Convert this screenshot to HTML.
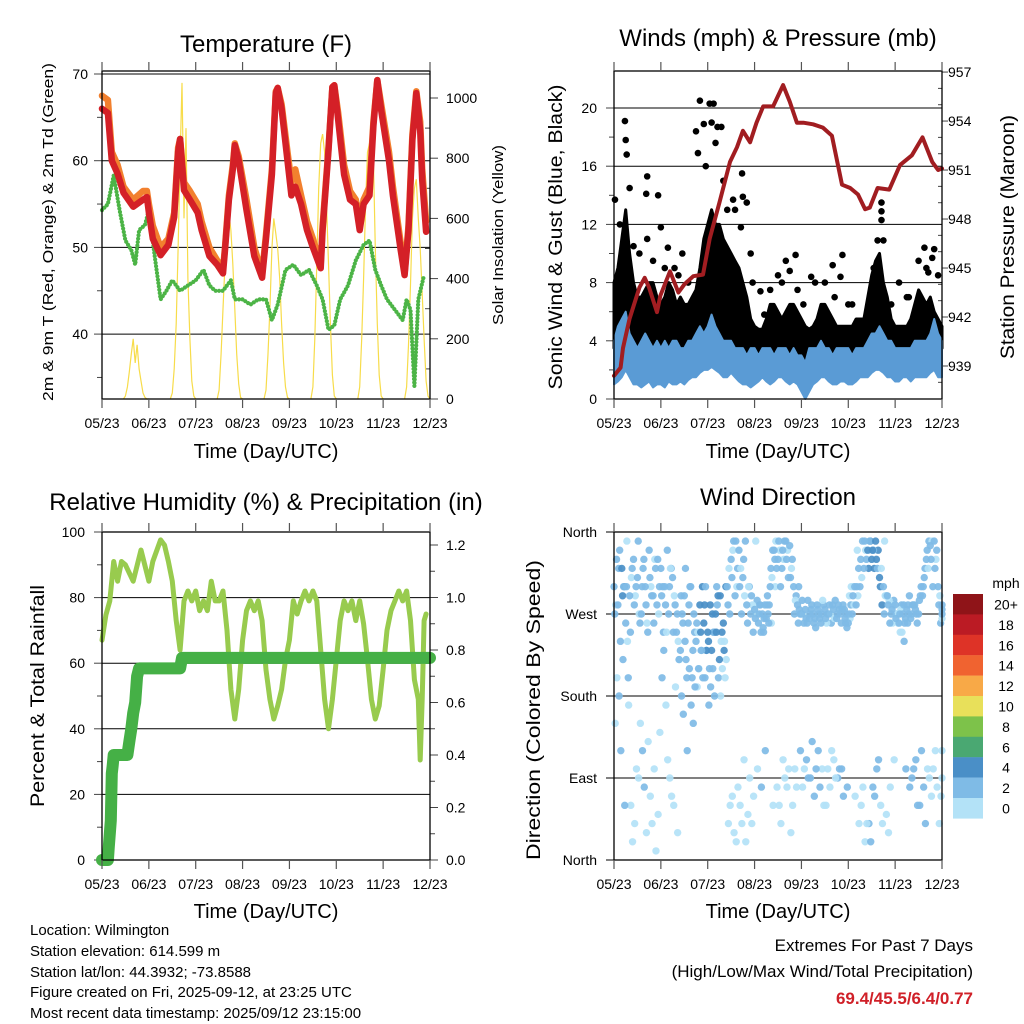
<!DOCTYPE html>
<html><head><meta charset="utf-8"><style>
html,body{margin:0;padding:0;background:#fff}
svg{display:block;font-family:"Liberation Sans",Arial,sans-serif}
</style></head><body>
<svg id="s" width="1024" height="1024" viewBox="0 0 1024 1024" xmlns="http://www.w3.org/2000/svg">
<rect width="1024" height="1024" fill="#fff"/>
<g id="p1"></g>
<g id="p2"></g>
<g id="p3"></g>
<g id="p4"></g>
<text x="266" y="52" font-size="24" text-anchor="middle">Temperature (F)</text>
<text x="778" y="46" font-size="24" text-anchor="middle">Winds (mph) &amp; Pressure (mb)</text>
<text x="266" y="510" font-size="24" text-anchor="middle">Relative Humidity (%) &amp; Precipitation (in)</text>
<text x="778" y="505" font-size="24" text-anchor="middle">Wind Direction</text>
<text x="266" y="458" font-size="20" text-anchor="middle">Time (Day/UTC)</text>
<text x="778" y="458" font-size="20" text-anchor="middle">Time (Day/UTC)</text>
<text x="266" y="918" font-size="20" text-anchor="middle">Time (Day/UTC)</text>
<text x="778" y="918" font-size="20" text-anchor="middle">Time (Day/UTC)</text>
<text transform="translate(53,232) rotate(-90)" font-size="15" text-anchor="middle" textLength="338" lengthAdjust="spacingAndGlyphs">2m &amp; 9m T (Red, Orange) &amp; 2m Td (Green)</text>
<text transform="translate(503,235) rotate(-90)" font-size="15" text-anchor="middle" textLength="180" lengthAdjust="spacingAndGlyphs">Solar Insolation (Yellow)</text>
<text transform="translate(562,237) rotate(-90)" font-size="19" text-anchor="middle" textLength="305" lengthAdjust="spacingAndGlyphs">Sonic Wind &amp; Gust (Blue, Black)</text>
<text transform="translate(1014,237) rotate(-90)" font-size="19" text-anchor="middle" textLength="244" lengthAdjust="spacingAndGlyphs">Station Pressure (Maroon)</text>
<text transform="translate(44,696) rotate(-90)" font-size="19" text-anchor="middle" textLength="222" lengthAdjust="spacingAndGlyphs">Percent &amp; Total Rainfall</text>
<text transform="translate(540,710) rotate(-90)" font-size="19" text-anchor="middle" textLength="300" lengthAdjust="spacingAndGlyphs">Direction (Colored By Speed)</text>
<g font-size="15">
<text x="30" y="935">Location: Wilmington</text>
<text x="30" y="956">Station elevation: 614.599 m</text>
<text x="30" y="977">Station lat/lon: 44.3932; -73.8588</text>
<text x="30" y="997">Figure created on Fri, 2025-09-12, at 23:25 UTC</text>
<text x="30" y="1018">Most recent data timestamp: 2025/09/12 23:15:00</text>
</g>
<g font-size="17" text-anchor="end">
<text x="973" y="951">Extremes For Past 7 Days</text>
<text x="973" y="977">(High/Low/Max Wind/Total Precipitation)</text>
<text x="973" y="1004" font-weight="bold" fill="#d02028">69.4/45.5/6.4/0.77</text>
</g>
</svg>
<script>
// ---------- data ----------
const dayLabels = ["05/23","06/23","07/23","08/23","09/23","10/23","11/23","12/23"];
const tempHours = [0,3,5,8,11,16,21,23,24,26,30,34,37,39,40,42,45,49,51,55,59,62,63,65,67,68,70,74,78,82,84,87,89,90,92,95,97,99,102,105,108,110,112,113,116,118,119,121,124,127,130,132,134,137,139,141,143,147,149,153,155,157,159,161,163,164,166];
const tempRed =   [66,65.5,60,58.5,56.3,54.7,55.5,55.8,54,51,49.1,50.3,53.5,61,62.5,56.6,55.5,54,52,49,48,47,49.7,55.5,59,61.8,60,54.3,49,46.5,51,58.4,67.8,68.4,66,60,56,57,55,52,50,48.8,47.6,52,61.2,68.5,68.7,64.7,58.4,55.5,55,52,55,56,64,69.3,65.8,60,56,49.7,46.8,52,62.4,67.8,63.5,57.8,51.8];
const tempOrange =[67.5,67,61,59.5,57,55.5,56.5,56.5,55,52.5,50,51,54,61.5,62.5,57.5,56.5,55,53,50,48.5,47.5,50,56,59.5,62,60.5,55.5,50,47,51.5,59,68,68.4,66.5,61,57.5,59,56,53,51,49.5,48,52.5,61.5,68.5,68.7,65.5,59.5,56.5,55.5,53,55.5,57,64.5,69.3,66.5,61,57,50.5,47,52.5,63,68,64.5,59,53];
const dewHours = [0,3,6,9,12,15,17,19,22,24,27,30,33,36,40,44,48,52,55,58,62,66,68,72,76,80,84,87,90,94,98,102,106,110,113,116,119,122,126,130,134,137,140,143,146,150,154,156,158,160,162,165];
const dewPoint = [54.3,55,58.3,54.3,50.8,49.7,48,52,52.6,54.3,49,44,45,46.2,45,45.6,46.2,47.4,45.6,45,45,46.2,44,44,43.4,44,44,41.6,43.4,47.4,48,46.8,47.4,45.6,44,40.5,41,44,45.6,48.5,50.3,50.8,47.4,45.6,44,42.8,41.6,44,42.8,34,44,46.8];
const solarDay0 = [0,10,40,90,150,200,120,180,100,60,20,5,0,0];
const solarDay1 = [0,20,100,250,500,800,1050,600,900,400,200,60,10,0];
const solarDay2 = [0,30,150,300,450,580,620,560,450,300,150,50,5,0];
const solarDay3 = [0,30,150,300,500,600,550,500,400,250,120,40,5,0];
const solarDay4 = [0,40,200,450,700,850,880,820,650,450,250,80,10,0];
const solarDay5 = [0,40,200,400,650,820,850,700,800,500,250,80,10,0];
const solarDay6 = [0,40,180,380,600,700,730,600,500,350,200,60,10,0];
// winds (every 2 hours, 0..168)
const windHi = [4,5,5.5,6,4.5,4,3.5,4,4.5,4,3.5,4,3.5,4,3.5,4,4,3.5,3.5,4,4,4.5,5,4.5,5,5.8,5,4.5,4,4,4,3.5,3.5,3.5,3,3.5,3.5,3,3.5,3.5,3.5,3,3.5,3.5,3.5,3,3.5,3,3,2.5,3.5,3.5,3.5,4,3.5,3.5,3,3.5,3.5,3.5,3.5,3,3.5,3.5,3.5,4,4.5,4.5,5,4.5,4,4,3.5,3.5,3.5,3.5,3.5,4,4,4,4,4.5,5.5,4.5,4];
const windLo = [1,1.2,1.5,2,1.5,1,1,0.8,1,1.2,0.8,1,1,0.8,1.2,1,1,1.2,1,1.3,1.5,1.5,1.8,2,2,2.2,2,1.8,1.5,1.5,1.8,1.5,1.2,1,1,0.8,1,1.2,1.5,1.2,1,1.2,1.5,1.5,1.2,1,1.2,1,0.5,0,0.5,1,1.2,1.5,1.5,1.2,1,1,1.2,1.2,1,1,1.2,1.5,1.5,1.5,1.8,2,2,1.8,1.5,1.5,1.2,1.2,1.5,1.5,1.2,1.5,1.5,1.5,1.5,1.8,2,1.5,1.5];
const gustHi = [8,9,11,13,10,8,7,7,7.5,8,8,7,6.5,7,8,7.5,6.5,7,6.5,6.5,7,7.5,9,11,12,13,12,12,11,10.5,10,9.5,9,8,7,5.5,5,4.8,4.8,5.5,6.5,6.5,6,5.5,6,6.5,6.5,6,5.5,5,4.8,5,5.5,6.5,6.5,6,5.5,5,5,5,5,5,5.5,5.5,5.5,7,8.5,9.5,10,8,7,5.5,5,5,5,5,5.5,6.5,7.5,7,6.5,7,6,5.5,5];
const gustOutHours = [5.6,6,6.5,0.5,17,16.5,22.6,24,27.6,17,44,49,51,46,50,53,55,52,42,43,65.6,61,66,68,65,75,77,137,137,137,135,138,93,90,101,117,112,116,159,164,163,161,106.5,125,129.6,3,10,31,35,58,71,84,88,97,108,120,146,151,156,8,13,20,26,33,38,47,56,62,70,80,86,94,103,113,122,133,142,150,160,166];
const gustOutVals =  [19.1,17.8,16.8,13.7,15.3,14.1,14,11.8,10.4,11,20.5,20.3,20.3,18.9,19,18.7,18.7,17.6,18.4,16.9,15.5,13.7,13.9,13.5,11.8,7.4,5.8,13.5,12.9,12.3,10.9,10.9,9.9,8.8,8.4,9.9,9.2,8.4,10.4,10.3,9.7,8.7,5.2,4.1,5.3,12,10.5,9,10,13,8,8.5,9.5,6.5,8,6.5,8,7,9.5,14.5,10,9.5,9,8.5,8,16,15,13,10,7.5,8,7.5,8,7,6.5,9,6.5,7,9,8.5];
const pressHours = [0,3.4,4.6,8,13,15.7,18,22,23.7,28.7,33,36,40.6,45.6,49,54,59.4,63,66,69.7,73,76.4,81.5,86.6,90,93.7,97,102,107,111.6,116.8,121,125,128.6,131,135,141,146.5,152.6,158,163,166,168];
const pressVals =  [938.4,938.9,940.1,941.9,943.8,944.4,943.8,942.3,943.3,944.8,943.5,944,944.5,944.6,946.8,949,951.5,952.4,953.4,952.7,953.9,954.9,954.9,956.2,955.2,953.9,953.9,953.8,953.6,953.1,950.1,949.9,949.5,948.6,948.7,949.9,949.8,951.3,951.9,953,951.5,951,951.1];
// humidity & precipitation
const rhHours = [0,2,4,6,8,10,12,16,20,24,26,30,32,34,36,38,40,42,44,46,48,50,52,54,56,58,60,62,64,66,68,70,72,74,76,78,80,82,84,86,88,90,92,94,96,98,100,102,104,106,108,110,112,114,116,118,120,122,124,126,128,130,132,134,136,138,140,142,144,146,148,150,152,154,156,158,160,162,163,164,165,166];
const rhVals = [67,74.7,79,91,85,91,90,85,94.5,85,91,97.6,96,91,85,73,64,79,82,79,82,76,79,76,85,79,79,82,70,52,43,52,67,76,79,76,79,73,58,49,43,47,52,61,67,79,75,79,82,79,82,79,64,49,40,49,61,73,79,76,79,73,79,72,61,49,43,47,58,70,76,79,82,79,82,73,55,49,30.5,49,73,75];
const precipHours = [0,3,3.5,4,4.5,5,5.5,6,13,14,15,16,17,18,19,40,41,168];
const precipVals = [0,0,0.05,0.1,0.15,0.33,0.36,0.4,0.4,0.45,0.5,0.56,0.6,0.7,0.73,0.73,0.77,0.77];
// wind direction (every 2 hours)
const dirA = [300,280,320,260,290,330,310,270,300,340,290,280,320,300,270,310,250,230,290,260,200,240,280,260,250,230,270,220,260,300,330,290,340,310,280,270,275,260,270,265,300,340,330,320,350,345,300,280,270,275,265,270,280,260,275,270,280,265,270,275,260,270,280,300,320,340,330,350,310,300,290,270,280,260,270,275,265,280,270,290,330,345,350,300,280];
const dirB = [150,180,220,350,60,40,90,120,30,70,100,50,200,170,90,60,30,180,320,210,150,190,230,200,170,210,300,180,240,40,70,20,60,110,50,40,350,280,250,290,260,300,60,110,80,30,100,300,80,110,90,70,120,100,60,80,110,90,100,260,290,300,340,60,20,40,80,100,60,350,30,260,270,250,240,280,90,110,60,80,100,70,120,40,90];
const dirC = [270,320,290,300,250,280,350,300,280,310,260,330,290,280,300,250,270,290,240,280,230,260,250,280,240,270,250,290,230,280,310,350,300,330,260,290,265,270,255,280,320,330,350,340,330,310,270,260,285,265,270,260,275,270,265,280,275,270,260,265,270,290,300,330,350,320,340,330,300,270,280,275,265,270,280,260,270,275,285,300,340,330,320,280,270];
const dirD = [330,240,300,200,320,300,260,330,250,290,320,300,250,340,320,280,220,260,200,300,250,210,300,230,280,250,290,250,300,270,350,320,270,350,300,250,285,250,280,260,340,320,300,350,310,330,290,270,260,285,280,255,265,280,270,260,285,275,280,255,280,300,320,350,330,350,320,340,280,290,260,285,270,280,265,290,280,260,300,320,350,300,340,260,275];
const dirE = [280,340,300,240,310,290,270,320,260,300,330,270,300,250,320,290,240,270,220,300,270,250,230,300,210,250,280,240,200,320,340,300,320,290,300,280,270,280,265,270,310,350,340,330,340,320,285,275,270,260,275,265,270,285,260,270,265,280,275,270,265,280,290,310,340,350,340,320,320,290,285,280,270,275,260,270,280,270,290,310,320,350,330,290,265];
const dirF = [200,120,60,170,20,100,150,80,130,40,10,140,230,110,70,190,220,160,120,170,190,210,200,230,190,180,200,210,220,60,30,80,40,20,90,70,100,80,120,280,60,80,40,90,100,60,80,120,100,90,130,100,80,60,100,120,90,100,70,80,300,70,40,80,40,20,70,110,40,50,80,110,260,250,100,80,100,60,120,40,90,100,80,70,120];
const spdA = [3,3,4,3,3,3,2,3,3,2,2,3,3,2,2,3,3,3,3,3,3,3,4,4,5,5,4,4,4,3,3,3,2,2,2,2,3,3,3,2,2,3,2,2,2,2,3,3,3,2,2,3,3,3,2,2,2,3,3,3,2,2,3,3,3,4,4,5,4,3,3,3,3,2,2,3,3,3,2,2,2,3,3,3,2];
const spdB = [1,2,2,1,1,1,1,2,1,1,1,1,2,1,1,1,1,2,2,2,2,1,3,3,3,2,2,1,1,1,1,1,1,1,1,1,1,2,2,2,1,1,1,1,1,1,1,2,1,2,2,2,2,1,1,1,1,2,2,2,1,1,1,1,1,2,2,2,1,1,1,1,1,1,2,2,2,2,3,2,1,1,1,1,1];
const scaleLabels = ["20+","18","16","14","12","10","8","6","4","2","0"];
const scaleColors = ["#8f1418","#bb1b24","#de3327","#f06330","#f8a947","#e8e05a","#7dc24a","#4aa872","#4a8fc7","#7fbbe6","#b3e2f7"];

// ---------- helpers ----------
const NS="http://www.w3.org/2000/svg";
function mk(parent, tag, attrs){const e=document.createElementNS(NS,tag);for(const k in attrs)e.setAttribute(k,attrs[k]);parent.appendChild(e);return e;}
function txt(parent,x,y,s,size,anchor){const t=mk(parent,"text",{x:x,y:y,"font-size":size,"text-anchor":anchor});t.textContent=s;return t;}
const PXH = 328/168;
const xL = h => 102 + h*PXH;
const xR = h => 614 + h*PXH;
const yTemp = v => 74 + (70-v)*8.67;
const ySolar = v => 399 - v*0.301;
const yWind = v => 399 - v*14.55;
const yPress = v => 366 - (v-939)*16.33;
const yRH = v => 860 - v*3.28;
const yPrec = v => 860 - v*262.5;
const yDir = v => 860 - v*(328/360);
function poly(pts){return pts.map(p=>p[0].toFixed(1)+","+p[1].toFixed(1)).join(" ");}

function frame(g, x0, x1, y0, y1, xfun, name){
  const b = mk(g,"rect",{x:x0,y:y0,width:x1-x0,height:y1-y0,fill:"none",stroke:"#000","stroke-width":1.3});
  
  
  for(let d=0; d<8; d++){
    const x = xfun(d*24);
    const t1 = mk(g,"line",{x1:x,x2:x,y1:y1,y2:y1+9,stroke:"#555","stroke-width":1.2});
    
    
    const t2 = mk(g,"line",{x1:x,x2:x,y1:y0,y2:y0-9,stroke:"#555","stroke-width":1.2});
    
    
    const lb = txt(g,x,y1+29,dayLabels[d],14,"middle");
    
    
  }
}
function hgrid(g,x0,x1,y,name){
  const l = mk(g,"line",{x1:x0,x2:x1,y1:y,y2:y,stroke:"#000","stroke-width":1});
  
  
}
function ylab(g,x,y,s,anchor,name){
  const t = txt(g,x,y+5,s,14,anchor);
  
  
}
function ytick(g,x,y,len,name){
  const l = mk(g,"line",{x1:x,x2:x+len,y1:y,y2:y,stroke:"#444","stroke-width":1});
  
  
}

// ---------- panel 1: temperature ----------
(function(){
  const g=document.getElementById("p1");
  [40,50,60,70].forEach(v=>{hgrid(g,102,430,yTemp(v),'temp-gridline');ylab(g,88,yTemp(v),String(v),"end",'temp-y-label');ytick(g,102,yTemp(v),-8,'temp-y-tick');});
  [35,45,55,65].forEach(v=>ytick(g,102,yTemp(v),-5,'temp-y-minor-tick'));
  for(let v=0; v<=1000; v+=200){ylab(g,446,ySolar(v),String(v),"start",'solar-y-label');ytick(g,430,ySolar(v),8,'solar-y-tick');}
  for(let v=100; v<=1000; v+=200){ytick(g,430,ySolar(v),-5,'solar-y-minor-tick');}
  const solarDays=[solarDay0,solarDay1,solarDay2,solarDay3,solarDay4,solarDay5,solarDay6];
  solarDays.forEach((arr,d)=>{
    const pts=arr.map((v,i)=>[xL(d*24+11+i),ySolar(v)]);
    const p=mk(g,"polyline",{points:poly(pts),fill:"none",stroke:"#f7dc4a","stroke-width":1.2});
    
    
  });
  const dp=mk(g,"polyline",{points:poly(dewHours.map((h,i)=>[xL(h),yTemp(dewPoint[i])])),fill:"none",stroke:"#4cb446","stroke-width":4.2,"stroke-dasharray":"0 3.4","stroke-linecap":"round","stroke-linejoin":"round"});
  
  
  const po=mk(g,"polyline",{points:poly(tempHours.map((h,i)=>[xL(h),yTemp(tempOrange[i])])),fill:"none",stroke:"#f2802e","stroke-width":6.5,"stroke-linejoin":"round","stroke-linecap":"round"});
  
  
  const pr=mk(g,"polyline",{points:poly(tempHours.map((h,i)=>[xL(h),yTemp(tempRed[i])])),fill:"none",stroke:"#d42027","stroke-width":6.5,"stroke-linejoin":"round","stroke-linecap":"round"});
  
  
  frame(g,102,430,71,399,xL,'temp');
})();

// ---------- panel 2: winds ----------
(function(){
  const g=document.getElementById("p2");
  for(let v=4; v<=20; v+=4) hgrid(g,614,942,yWind(v),'wind-gridline');
  for(let v=0; v<=20; v+=4){ylab(g,597,yWind(v),String(v),"end",'wind-y-label');ytick(g,614,yWind(v),-8,'wind-y-tick');}
  for(let v=2; v<=20; v+=4) ytick(g,614,yWind(v),-5,'wind-y-minor-tick');
  for(let v=939; v<=957; v+=3){ylab(g,948,yPress(v),String(v),"start",'pressure-y-label');ytick(g,942,yPress(v),6,'pressure-y-tick');}
  for(let v=938; v<=957; v+=1){ if((v-939)%3) ytick(g,942,yPress(v),-4,'pressure-y-minor-tick');}
  const hrs=gustHi.map((_,i)=>i*2);
  const top=hrs.map((h,i)=>[xR(h),yWind(gustHi[i])]);
  const bot=hrs.map((h,i)=>[xR(h),yWind(windHi[i]-0.5)]).reverse();
  const gp=mk(g,"polygon",{points:poly(top.concat(bot)),fill:"#000",stroke:"#000","stroke-width":3,"stroke-linejoin":"round"});
  
  
  gustOutHours.forEach((h,i)=>{
    const c=mk(g,"circle",{cx:xR(h),cy:yWind(gustOutVals[i]),r:3.3,fill:"#000"});
    
    
  });
  const wt=hrs.map((h,i)=>[xR(h),yWind(windHi[i])]);
  const wb=hrs.map((h,i)=>[xR(h),yWind(windLo[i])]).reverse();
  const wp=mk(g,"polygon",{points:poly(wt.concat(wb)),fill:"#5a9bd5",stroke:"#5a9bd5","stroke-width":2,"stroke-linejoin":"round"});
  
  
  const pp=mk(g,"polyline",{points:poly(pressHours.map((h,i)=>[xR(h),yPress(pressVals[i])])),fill:"none",stroke:"#a11d21","stroke-width":4,"stroke-linejoin":"round","stroke-linecap":"round"});
  
  
  frame(g,614,942,71,399,xR,'wind');
})();

// ---------- panel 3: humidity ----------
(function(){
  const g=document.getElementById("p3");
  [20,40,60,80].forEach(v=>hgrid(g,102,430,yRH(v),'rh-gridline'));
  for(let v=0; v<=100; v+=20){ylab(g,85,yRH(v),String(v),"end",'rh-y-label');ytick(g,102,yRH(v),-8,'rh-y-tick');}
  for(let v=10; v<=100; v+=20) ytick(g,102,yRH(v),-5,'rh-y-minor-tick');
  for(let v=0; v<=12; v+=2){ylab(g,446,yPrec(v/10),(v/10).toFixed(1),"start",'precip-y-label');ytick(g,430,yPrec(v/10),8,'precip-y-tick');}
  for(let v=1; v<=12; v+=2) ytick(g,430,yPrec(v/10),5,'precip-y-minor-tick');
  const rl=mk(g,"polyline",{points:poly(rhHours.map((h,i)=>[xL(h),yRH(rhVals[i])])),fill:"none",stroke:"#98cb4e","stroke-width":5,"stroke-linejoin":"round","stroke-linecap":"round"});
  
  
  const pl=mk(g,"polyline",{points:poly(precipHours.map((h,i)=>[xL(h),yPrec(precipVals[i])])),fill:"none",stroke:"#45b046","stroke-width":12,"stroke-linejoin":"round","stroke-linecap":"round"});
  
  
  frame(g,102,430,532,860,xL,'rh');
})();

// ---------- panel 4: wind direction ----------
(function(){
  const g=document.getElementById("p4");
  const names=["North","East","South","West","North"];
  [0,90,180,270,360].forEach((v,i)=>{
    hgrid(g,606,942,yDir(v),'direction-gridline');
    ylab(g,597,yDir(v),names[i],"end",'direction-y-label');
  });
  const col = s => scaleColors[10-Math.max(0,Math.min(10,Math.floor(s/2)))];
  const hrs=dirA.map((_,i)=>i*2);
  [[dirB,spdB,0.6],[dirF,spdB,1.5],[dirD,spdA,1.3],[dirE,spdB,0.9],[dirC,spdA,0.4],[dirA,spdA,0]].forEach(([arr,sp,off],k)=>{
    arr.forEach((v,i)=>{
      const h=Math.min(168,hrs[i]+off);
      const c=mk(g,"circle",{cx:xR(h),cy:yDir(v),r:3.7,fill:col(sp[i]+0.5),"fill-opacity":0.92});
      
      
    });
  });
  frame(g,614,942,532,860,xR,'direction');
  // color scale
  const lg=mk(g,"g",{});
  
  
  const tt=txt(lg,1006,588,"mph",14,"middle");
  
  
  scaleLabels.forEach((s,i)=>{
    const r=mk(lg,"rect",{x:953,y:594+i*20.4,width:30,height:20.6,fill:scaleColors[i]});
    
    
    const t=txt(lg,1006,594+i*20.4+15.5,s,14,"middle");
    
    
  });
})();
</script>
</body></html>
